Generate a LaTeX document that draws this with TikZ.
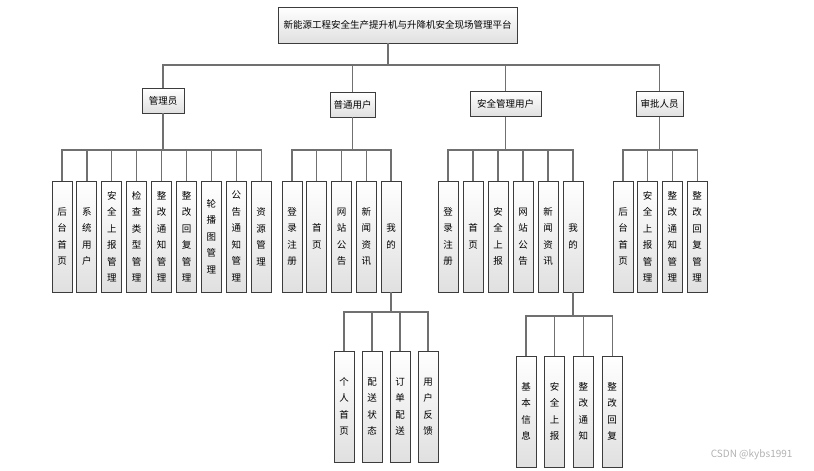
\documentclass[tikz,border=0pt]{standalone}
\usepackage{fontspec}
\setmainfont{Noto Sans CJK SC}
\usetikzlibrary{positioning}
\definecolor{Edge}{HTML}{707070}
\definecolor{Frame}{HTML}{3C3C3C}
\definecolor{Shade}{HTML}{E0E0E0}

\begin{document}
\begin{tikzpicture}[x=1pt,y=-1pt,font=\fontsize{9.5}{16.5}\selectfont,
    box/.style={draw=Frame,top color=white,bottom color=Shade,line width=0.9pt,
      inner xsep=3pt,inner ysep=0pt,minimum height=25pt},
    leaf/.style={box,align=center,minimum width=20pt,minimum height=111pt},
    conn/.style={draw=Edge,line width=1.2pt}]
  \useasboundingbox (0,0) rectangle (814,471);
  \node[box,minimum width=239pt,minimum height=36pt] (root) at (397.5,25)
    {新能源工程安全生产提升机与升降机安全现场管理平台};
  \node[box,minimum width=42pt] (admin) at (163,100.5) {管理员};
  \node[box,minimum width=45pt] (user) at (352.5,104.5) {普通用户};
  \node[box,minimum width=71pt] (safe) at (505.5,104) {安全管理用户};
  \node[box,minimum width=47pt] (audit) at (659.5,104) {审批人员};
  \coordinate (bus0) at (0,65);
  \coordinate (bus1) at (0,150);
  \coordinate (busU) at (0,312);
  \coordinate (busS) at (0,316);
  \foreach \n in {admin,user,safe,audit}
    \draw[conn] ([xshift=-9.5pt]root.south) -- ([xshift=-9.5pt]root.south |- bus0) -| (\n.north);
  % leaves
  \foreach \t [count=\i] in {{后\\台\\首\\页},{系\\统\\用\\户},{安\\全\\上\\报\\管\\理},
      {检\\查\\类\\型\\管\\理},{整\\改\\通\\知\\管\\理},{整\\改\\回\\复\\管\\理},
      {轮\\播\\图\\管\\理},{公\\告\\通\\知\\管\\理},{资\\源\\管\\理}}
    \node[leaf] (a\i) at ({62+24.9*(\i-1)},236.5) {\t};
  \foreach \t [count=\i] in {{登\\录\\注\\册},{首\\页},{网\\站\\公\\告},{新\\闻\\资\\讯},{我\\的}}
    \node[leaf] (u\i) at ({292+24.75*(\i-1)},236.5) {\t};
  \foreach \t [count=\i] in {{登\\录\\注\\册},{首\\页},{安\\全\\上\\报},{网\\站\\公\\告},
      {新\\闻\\资\\讯},{我\\的}}
    \node[leaf] (s\i) at ({448+25*(\i-1)},236.5) {\t};
  \foreach \t [count=\i] in {{后\\台\\首\\页},{安\\全\\上\\报\\管\\理},{整\\改\\通\\知\\管\\理},
      {整\\改\\回\\复\\管\\理}}
    \node[leaf] (p\i) at ({623+24.7*(\i-1)},236.5) {\t};
  \foreach \t [count=\i] in {{个\\人\\首\\页},{配\\送\\状\\态},{订\\单\\配\\送},{用\\户\\反\\馈}}
    \node[leaf] (m\i) at ({344+28*(\i-1)},406.5) {\t};
  \foreach \t [count=\i] in {{基\\本\\信\\息},{安\\全\\上\\报},{整\\改\\通\\知},{整\\改\\回\\复}}
    \node[leaf] (n\i) at ({526+28.7*(\i-1)},411.5) {\t};
  % connectors
  \foreach \i in {1,...,9}
    \draw[conn] (admin.south) -- (admin.south |- bus1) -| (a\i.north);
  \foreach \i in {1,...,5}
    \draw[conn] (user.south) -- (user.south |- bus1) -| (u\i.north);
  \foreach \i in {1,...,6}
    \draw[conn] (safe.south) -- (safe.south |- bus1) -| (s\i.north);
  \foreach \i in {1,...,4}
    \draw[conn] (audit.south) -- (audit.south |- bus1) -| (p\i.north);
  \foreach \i in {1,...,4}
    \draw[conn] (u5.south) -- (u5.south |- busU) -| (m\i.north);
  \foreach \i in {1,...,4}
    \draw[conn] (s6.south) -- (s6.south |- busS) -| (n\i.north);
  \node[text=black!30,font=\fontsize{10}{12}\selectfont,anchor=east] (mark) at (796,455)
    {CSDN @kybs1991};
\end{tikzpicture}
\end{document}
